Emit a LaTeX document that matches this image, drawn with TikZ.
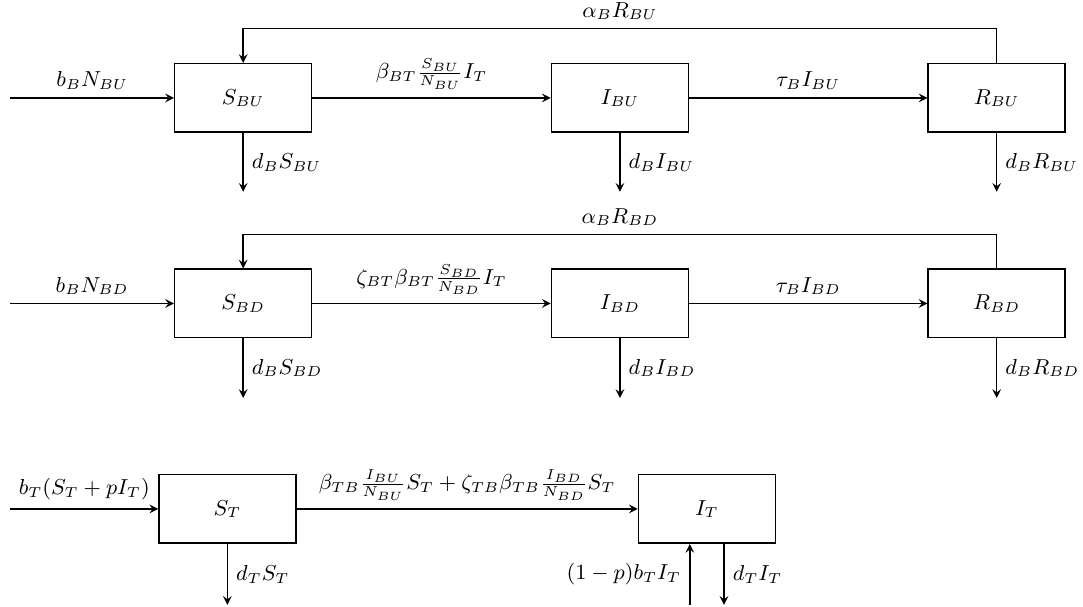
\documentclass[tikz,border=0pt]{standalone}
\usetikzlibrary{positioning}

\begin{document}
\begin{tikzpicture}[font=\small]
    % Define styles
    \tikzset{
        compartment/.style={draw, semithick, minimum width=2cm, minimum height=1cm, align=center},
        flowarrow/.style={->, >=stealth, semithick}
    }

    % Canvas
    \useasboundingbox (-3.55,1.43) rectangle (12.26,-7.43);

    % Row 1: BU compartments
    \node[compartment] (sbu) at (0,0) {$S_{BU}$};
    \node[compartment] (ibu) at (5.5,0) {$I_{BU}$};
    \node[compartment] (rbu) at (11,0) {$R_{BU}$};

    % Row 2: BD compartments
    \node[compartment] (sbd) at (0,-3) {$S_{BD}$};
    \node[compartment] (ibd) at (5.5,-3) {$I_{BD}$};
    \node[compartment] (rbd) at (11,-3) {$R_{BD}$};

    % Row 3: T compartments
    \node[compartment] (st) at (-0.23,-6) {$S_T$};
    \node[compartment] (it) at (6.77,-6) {$I_T$};

    % Free ends
    \coordinate (inbu) at (-3.4,0);
    \coordinate (inbd) at (-3.4,-3);
    \coordinate (inst) at (-3.4,-6);
    \coordinate (outsbu) at (0,-1.37);
    \coordinate (outibu) at (5.5,-1.37);
    \coordinate (outrbu) at (11,-1.37);
    \coordinate (outsbd) at (0,-4.38);
    \coordinate (outibd) at (5.5,-4.38);
    \coordinate (outrbd) at (11,-4.38);
    \coordinate (outst) at (-0.23,-7.4);
    \coordinate (init) at (6.52,-7.4);
    \coordinate (outit) at (7.02,-7.4);

    % Row 1 flows
    \draw[flowarrow] (inbu) -- node[above] {$b_BN_{BU}$} (sbu);
    \draw[flowarrow] (sbu) -- node[above] {$\beta_{BT}\frac{S_{BU}}{N_{BU}}I_T$} (ibu);
    \draw[flowarrow] (ibu) -- node[above] {$\tau_BI_{BU}$} (rbu);
    \draw[flowarrow] (rbu.north) -- ++(0,0.5) -| node[pos=0.25, above] {$\alpha_BR_{BU}$} (sbu.north);
    \draw[flowarrow] (sbu) -- node[right] {$d_BS_{BU}$} (outsbu);
    \draw[flowarrow] (ibu) -- node[right] {$d_BI_{BU}$} (outibu);
    \draw[flowarrow] (rbu) -- node[right] {$d_BR_{BU}$} (outrbu);

    % Row 2 flows
    \draw[flowarrow] (inbd) -- node[above] {$b_BN_{BD}$} (sbd);
    \draw[flowarrow] (sbd) -- node[above] {$\zeta_{BT}\beta_{BT}\frac{S_{BD}}{N_{BD}}I_T$} (ibd);
    \draw[flowarrow] (ibd) -- node[above] {$\tau_BI_{BD}$} (rbd);
    \draw[flowarrow] (rbd.north) -- ++(0,0.5) -| node[pos=0.25, above] {$\alpha_BR_{BD}$} (sbd.north);
    \draw[flowarrow] (sbd) -- node[right] {$d_BS_{BD}$} (outsbd);
    \draw[flowarrow] (ibd) -- node[right] {$d_BI_{BD}$} (outibd);
    \draw[flowarrow] (rbd) -- node[right] {$d_BR_{BD}$} (outrbd);

    % Row 3 flows
    \draw[flowarrow] (inst) -- node[above] {$b_T(S_T+pI_T)$} (st);
    \draw[flowarrow] (st) -- node[above] {$\beta_{TB}\frac{I_{BU}}{N_{BU}}S_T+\zeta_{TB}\beta_{TB}\frac{I_{BD}}{N_{BD}}S_T$} (it);
    \draw[flowarrow] (st) -- node[right] {$d_TS_T$} (outst);
    \draw[flowarrow] (init) -- node[left] {$(1-p)b_TI_T$} (init |- it.south);
    \draw[flowarrow] (outit |- it.south) -- node[right] {$d_TI_T$} (outit);

\end{tikzpicture}
\end{document}
